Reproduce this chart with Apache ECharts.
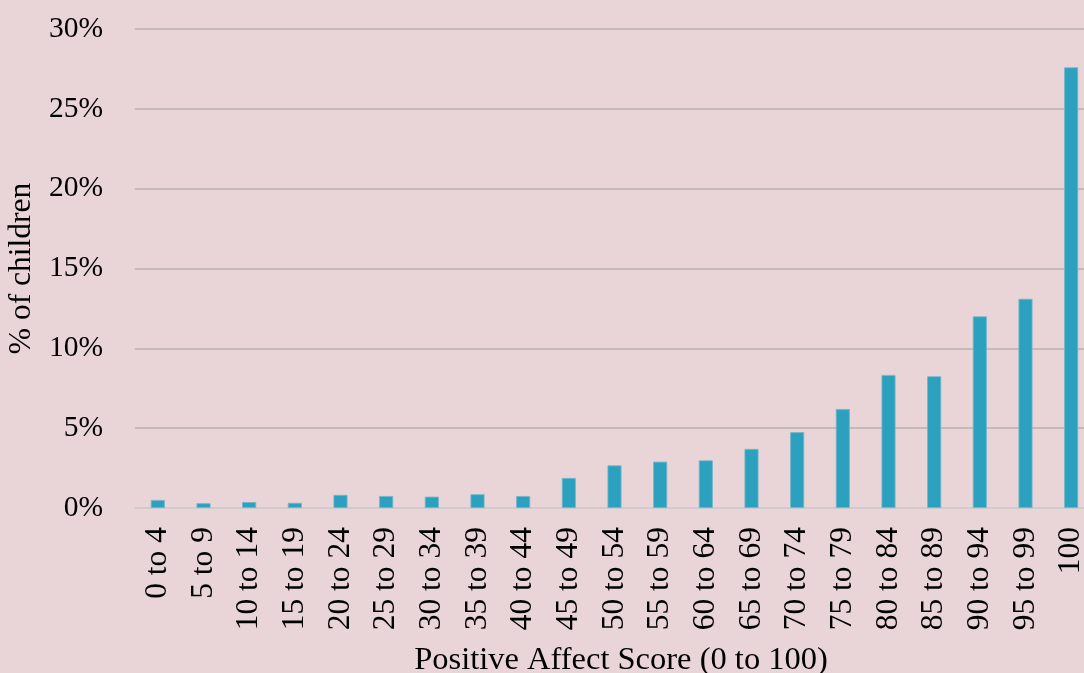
<!DOCTYPE html>
<html><head><meta charset="utf-8">
<script src="https://cdn.jsdelivr.net/npm/echarts@6/dist/echarts.min.js"></script>
<style>html,body{margin:0;padding:0;background:#E9D4D7;}#c{width:1084px;height:673px;}</style>
</head><body><div id="c"></div>
<script>
const categories = ["0 to 4","5 to 9","10 to 14","15 to 19","20 to 24","25 to 29","30 to 34","35 to 39","40 to 44","45 to 49","50 to 54","55 to 59","60 to 64","65 to 69","70 to 74","75 to 79","80 to 84","85 to 89","90 to 94","95 to 99","100"];
const values = [0.5,0.3,0.37,0.32,0.82,0.75,0.71,0.86,0.75,1.88,2.67,2.9,2.98,3.7,4.75,6.2,8.33,8.25,12.0,13.1,27.6];
const yTicks = {min:0, max:30, interval:5};
const xTitle = "Positive Affect Score (0 to 100)";
const yTitle = "% of children";

const font = "'Liberation Serif','Times New Roman',serif";
const chart = echarts.init(document.getElementById('c'), null, {renderer:'canvas'});
chart.setOption({
  backgroundColor:'#E9D4D7',
  animation:false,
  grid:{left:135, right:-10, top:29, bottom:165, containLabel:false, outerBoundsMode:'none'},
  xAxis:{
    type:'category', data:categories,
    axisLine:{show:true, lineStyle:{color:'#D6D0D1', width:1.5}},
    axisTick:{show:false},
    axisLabel:{rotate:90, margin:19, fontFamily:font, fontSize:31.5, color:'#000', interval:0},
    name:xTitle, nameLocation:'middle', nameGap:136,
    nameTextStyle:{fontFamily:font, fontSize:32.5, color:'#000', padding:[0,0,0,13]}
  },
  yAxis:{
    type:'value', min:yTicks.min, max:yTicks.max, interval:yTicks.interval,
    axisLine:{show:false}, axisTick:{show:false},
    splitLine:{lineStyle:{color:'#B8B1B2', width:1.5}},
    axisLabel:{formatter:'{value}%', margin:32, fontFamily:font, fontSize:29.5, color:'#000'},
    name:yTitle, nameLocation:'middle', nameGap:95,
    nameTextStyle:{fontFamily:font, fontSize:31.5, color:'#000'}
  },
  series:[{
    type:'bar', data:values, barWidth:14,
    itemStyle:{color:'#2CA1BF', borderColor:'#74B6C8', borderWidth:0.8}
  }]
});
</script></body></html>
